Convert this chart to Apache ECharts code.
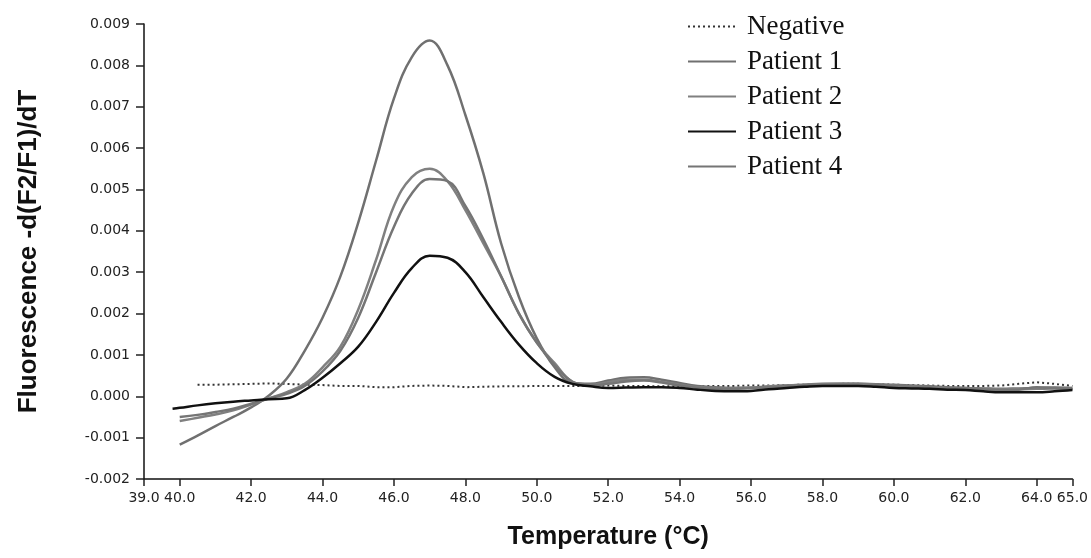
<!DOCTYPE html>
<html>
<head>
<meta charset="utf-8">
<script src="https://cdn.jsdelivr.net/npm/echarts@6/dist/echarts.min.js"></script>
<style>html,body{margin:0;padding:0;background:#fff;}#c{width:1091px;height:558px;}</style>
</head>
<body>
<div id="c"></div>
<script>
// Temperatures (°C)
const temps = [39.8, 40, 40.5, 41, 41.5, 42, 42.5, 43, 43.5, 44, 44.5, 45, 45.5, 46, 46.5, 47, 47.5, 48, 48.5, 49, 49.5, 50, 50.5, 51, 51.5, 52, 52.5, 53, 53.5, 54, 54.5, 55, 55.5, 56, 56.5, 57, 57.5, 58, 58.5, 59, 59.5, 60, 60.5, 61, 61.5, 62, 62.5, 63, 63.5, 64, 64.5, 65];

const negative = [null, null, 0.00028, 0.00028, 0.00029, 0.0003, 0.00031, 0.0003, 0.00028, 0.00027, 0.00025, 0.00025, 0.00022, 0.00022, 0.00025, 0.00026, 0.00025, 0.00022, 0.00023, 0.00024, 0.00024, 0.00025, 0.00025, 0.00025, 0.00025, 0.00026, 0.00025, 0.00025, 0.00024, 0.00024, 0.00024, 0.00025, 0.00025, 0.00026, 0.00026, 0.00027, 0.00028, 0.00029, 0.0003, 0.0003, 0.00029, 0.00028, 0.00027, 0.00026, 0.00025, 0.00025, 0.00025, 0.00026, 0.0003, 0.00034, 0.0003, 0.00025];

const patient1 = [null, -0.00117, -0.00095, -0.00072, -0.0005, -0.00027, 0.00002, 0.00043, 0.0011, 0.0019, 0.0029, 0.0042, 0.0057, 0.0072, 0.0082, 0.0086, 0.008, 0.0068, 0.0054, 0.0037, 0.0024, 0.0014, 0.0007, 0.00032, 0.0003, 0.00038, 0.00045, 0.00046, 0.0004, 0.00032, 0.00025, 0.00022, 0.0002, 0.0002, 0.00023, 0.00026, 0.00028, 0.0003, 0.0003, 0.0003, 0.00029, 0.00028, 0.00026, 0.00024, 0.00022, 0.0002, 0.00019, 0.00018, 0.00019, 0.0002, 0.00021, 0.0002];

const patient2 = [null, -0.0006, -0.00052, -0.00044, -0.00034, -0.0002, -0.00005, 0.0001, 0.0003, 0.0007, 0.0012, 0.0021, 0.0033, 0.0046, 0.0053, 0.0055, 0.0052, 0.0045, 0.0037, 0.0029, 0.002, 0.0013, 0.0008, 0.00035, 0.00028, 0.00034, 0.0004, 0.0004, 0.00035, 0.00028, 0.00022, 0.0002, 0.0002, 0.00021, 0.00024, 0.00026, 0.00028, 0.00029, 0.0003, 0.0003, 0.00028, 0.00026, 0.00024, 0.00022, 0.0002, 0.0002, 0.00018, 0.00017, 0.00017, 0.00018, 0.00019, 0.00018];

const patient3 = [-0.0003, -0.00028, -0.00022, -0.00017, -0.00013, -0.0001, -0.00007, -0.00005, 0.00015, 0.00045, 0.0008, 0.0012, 0.0018, 0.0025, 0.0031, 0.0034, 0.00335, 0.003, 0.0024, 0.0018, 0.00125, 0.0008, 0.00047, 0.0003, 0.00024, 0.0002, 0.00021, 0.00022, 0.00022, 0.0002, 0.00016, 0.00013, 0.00012, 0.00013, 0.00017, 0.0002, 0.00023, 0.00025, 0.00025, 0.00025, 0.00023, 0.0002, 0.00019, 0.00018, 0.00016, 0.00015, 0.00012, 0.0001, 0.0001, 0.0001, 0.00012, 0.00015];

const patient4 = [null, -0.0005, -0.00045, -0.00038, -0.0003, -0.00018, -0.00005, 0.00006, 0.00025, 0.0006, 0.0011, 0.0019, 0.003, 0.0041, 0.0049, 0.00525, 0.0052, 0.0046, 0.0038, 0.0029, 0.002, 0.0013, 0.00075, 0.00035, 0.00026, 0.0003, 0.00036, 0.00038, 0.00033, 0.00026, 0.0002, 0.00018, 0.00018, 0.0002, 0.00022, 0.00024, 0.00026, 0.00027, 0.00028, 0.00028, 0.00027, 0.00025, 0.00023, 0.00021, 0.0002, 0.00019, 0.00017, 0.00015, 0.00016, 0.00022, 0.0002, 0.00017];

const xTicks = [39, 40, 42, 44, 46, 48, 50, 52, 54, 56, 58, 60, 62, 64, 65];
const seriesNames = ['Negative', 'Patient 1', 'Patient 2', 'Patient 3', 'Patient 4'];

function pairs(vals) { return temps.map((t, i) => [t, vals[i]]); }

const chart = echarts.init(document.getElementById('c'));
const lineBase = { type: 'line', symbol: 'none', showSymbol: false, smooth: 0.4, connectNulls: false };
chart.setOption({
  animation: false,
  backgroundColor: '#ffffff',
  grid: { left: 144, right: 15, top: 24, bottom: 79 },
  legend: {
    orient: 'vertical', left: 682, top: 8, itemWidth: 48, itemHeight: 14, itemGap: 8,
    data: seriesNames,
    itemStyle: { opacity: 0 },
    textStyle: { fontFamily: 'Liberation Serif', fontSize: 27, color: '#111', lineHeight: 27, padding: [0, 0, 0, 6] }
  },
  xAxis: {
    type: 'value', min: 39, max: 65,
    name: 'Temperature (°C)', nameLocation: 'middle', nameGap: 46,
    nameTextStyle: { fontFamily: 'Liberation Sans', fontWeight: 'bold', fontSize: 25, color: '#111' },
    axisLine: { onZero: false, lineStyle: { color: '#111', width: 1.5 } },
    axisTick: { customValues: xTicks, length: 7, lineStyle: { color: '#222', width: 1.5 } },
    axisLabel: { customValues: xTicks, formatter: v => v.toFixed(1), fontFamily: 'DejaVu Sans', fontSize: 14, color: '#222', margin: 12 },
    splitLine: { show: false }
  },
  yAxis: {
    type: 'value', min: -0.002, max: 0.009, interval: 0.001,
    name: 'Fluorescence -d(F2/F1)/dT', nameLocation: 'middle', nameGap: 102,
    nameTextStyle: { fontFamily: 'Liberation Sans', fontWeight: 'bold', fontSize: 26, color: '#111' },
    axisLine: { show: true, onZero: false, lineStyle: { color: '#111', width: 1.5 } },
    axisTick: { show: true, length: 8, lineStyle: { color: '#222', width: 1.5 } },
    axisLabel: { formatter: v => v.toFixed(3), fontFamily: 'DejaVu Sans', fontSize: 14, color: '#222', margin: 14 },
    splitLine: { show: false }
  },
  series: [
    Object.assign({}, lineBase, { name: 'Negative', data: pairs(negative), smooth: false, lineStyle: { color: '#333', width: 2, type: [2, 3] }, itemStyle: { color: '#333' } }),
    Object.assign({}, lineBase, { name: 'Patient 1', data: pairs(patient1), lineStyle: { color: '#707070', width: 2.5 }, itemStyle: { color: '#707070' } }),
    Object.assign({}, lineBase, { name: 'Patient 2', data: pairs(patient2), lineStyle: { color: '#808080', width: 2.5 }, itemStyle: { color: '#808080' } }),
    Object.assign({}, lineBase, { name: 'Patient 4', data: pairs(patient4), lineStyle: { color: '#757575', width: 2.5 }, itemStyle: { color: '#757575' } }),
    Object.assign({}, lineBase, { name: 'Patient 3', data: pairs(patient3), lineStyle: { color: '#111', width: 2.5 }, itemStyle: { color: '#111' } })
  ]
});
</script>
</body>
</html>
